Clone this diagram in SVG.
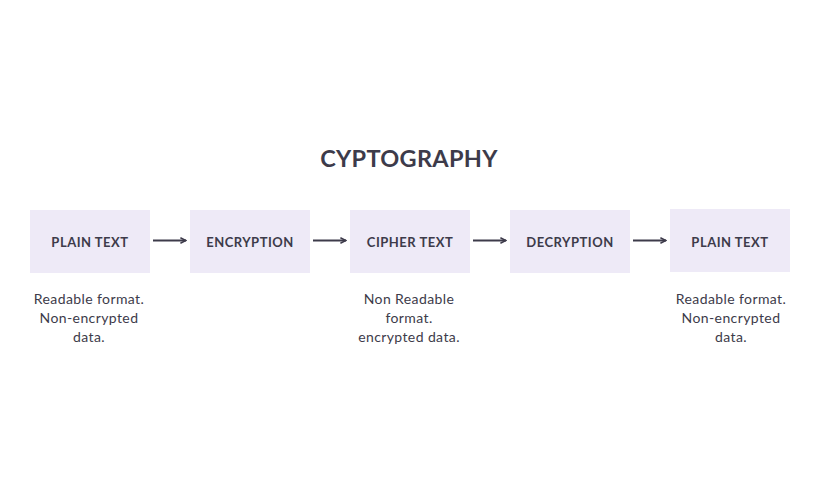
<svg xmlns="http://www.w3.org/2000/svg" width="819" height="488" viewBox="0 0 819 488">
<style>
.box{fill:#EEEAF7}
.lbl{font-family:Lato,"Open Sans",sans-serif;font-weight:bold;font-size:13px;letter-spacing:0.5px;fill:#3d3b4a;text-anchor:middle}
.sub{font-family:Lato,"Open Sans",sans-serif;font-size:14px;letter-spacing:0.4px;fill:#3d3b4a;text-anchor:middle}
.title{font-family:Lato,"Open Sans",sans-serif;font-weight:bold;font-size:23.5px;letter-spacing:0.3px;fill:#3d3b4a;text-anchor:middle}
.conn{stroke:#3d3b4a;stroke-width:2;fill:none;marker-end:url(#ah)}
</style>
<defs>
<marker id="ah" viewBox="0 0 10 10" refX="9" refY="5" markerWidth="3.5" markerHeight="3.5" orient="auto" markerUnits="strokeWidth">
<path d="M1,1 L9,5 L1,9" fill="none" stroke="#3d3b4a" stroke-width="2.2"/>
</marker>
</defs>
<rect width="819" height="488" fill="#fff"/>
<text class="title" x="409" y="167">CYPTOGRAPHY</text>
<g id="connectors">
<line class="conn" x1="153" y1="240.5" x2="186" y2="240.5"/>
<line class="conn" x1="313" y1="240.5" x2="346" y2="240.5"/>
<line class="conn" x1="473" y1="240.5" x2="506" y2="240.5"/>
<line class="conn" x1="633" y1="240.5" x2="666" y2="240.5"/>
</g>
<g id="plain1">
<rect class="box" x="30" y="210" width="120" height="63"/>
<text class="lbl" x="90" y="247">PLAIN TEXT</text>
<text class="sub" x="89" y="304">Readable format.</text>
<text class="sub" x="89" y="323">Non-encrypted</text>
<text class="sub" x="89" y="342">data.</text>
</g>
<g id="encryption">
<rect class="box" x="190" y="210" width="120" height="63"/>
<text class="lbl" x="250" y="247">ENCRYPTION</text>
</g>
<g id="cipher">
<rect class="box" x="350" y="210" width="120" height="63"/>
<text class="lbl" x="410" y="247">CIPHER TEXT</text>
<text class="sub" x="409" y="304">Non Readable</text>
<text class="sub" x="409" y="323">format.</text>
<text class="sub" x="409" y="342">encrypted data.</text>
</g>
<g id="decryption">
<rect class="box" x="510" y="210" width="120" height="63"/>
<text class="lbl" x="570" y="247">DECRYPTION</text>
</g>
<g id="plain2">
<rect class="box" x="670" y="209" width="120" height="63"/>
<text class="lbl" x="730" y="247">PLAIN TEXT</text>
<text class="sub" x="731" y="304">Readable format.</text>
<text class="sub" x="731" y="323">Non-encrypted</text>
<text class="sub" x="731" y="342">data.</text>
</g>
</svg>
